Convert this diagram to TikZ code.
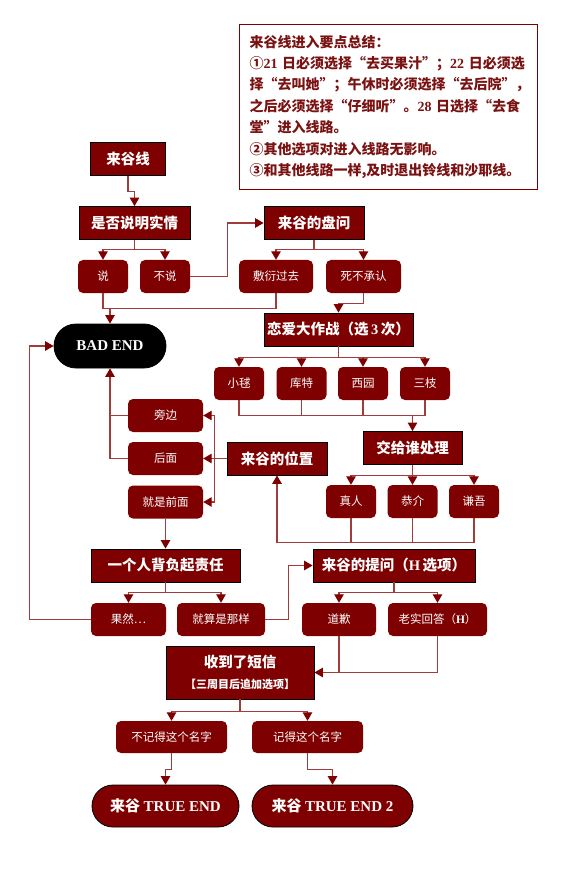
\documentclass[tikz,border=0pt]{standalone}
\usepackage{fontspec}
\setmainfont{Liberation Serif}
\newfontfamily\cjk{Noto Sans CJK SC}
\usetikzlibrary{arrows.meta,shapes.misc}
\definecolor{lgred}{HTML}{7F0000}
\definecolor{lgline}{HTML}{A03C3C}
\definecolor{lgtext}{HTML}{7A1212}
\newcommand\latn[1]{{\rmfamily\bfseries #1}}

\begin{document}
\begin{tikzpicture}[x=1pt,y=-1pt,
  headbox/.style={rectangle,fill=lgred,draw=black,line width=0.8pt,text=white,inner sep=0pt,minimum height=33pt,font=\cjk\bfseries\fontsize{14.5}{21}\selectfont},
  optbox/.style={rectangle,rounded corners=5pt,fill=lgred,text=white,inner sep=0pt,minimum height=33pt,font=\cjk\fontsize{11.5}{13}\selectfont},
  endbox/.style={rounded rectangle,fill=lgred,draw=black,line width=0.8pt,text=white,inner sep=0pt,minimum height=42pt,font=\cjk\bfseries\fontsize{15}{17}\selectfont},
  link/.style={draw=lgline,line width=1.1pt},
  arr/.style={link,-{Triangle[width=9.5pt,length=8.5pt,color=lgred]}}]
    \useasboundingbox (0,0) rectangle (580,874);
    \node[draw=lgred,line width=1pt,anchor=north west,text width=278pt,inner xsep=10pt,inner ysep=10.5pt,align=left,text=lgtext,font=\cjk\bfseries\fontsize{14}{21.4}\selectfont] (notes) at (239,24) {来谷线进入要点总结：\\
①\latn{21} 日必须选择“去买果汁”；\latn{22} 日必须选\\
择“去叫她”；午休时必须选择“去后院”，\\
之后必须选择“仔细听”。\latn{28} 日选择“去食\\
堂”进入线路。\\
②其他选项对进入线路无影响。\\
③和其他线路一样,及时退出铃线和沙耶线。};
    \node[headbox,minimum width=75pt] (line) at (128,159) {来谷线};
    \node[headbox,minimum width=111pt] (q) at (134.5,223) {是否说明实情};
    \node[headbox,minimum width=100pt] (pan) at (314,223) {来谷的盘问};
    \node[optbox,minimum width=50pt] (say) at (103,276.5) {说};
    \node[optbox,minimum width=50pt] (nosay) at (165,276.5) {不说};
    \node[optbox,minimum width=74pt] (fuyan) at (276,276.5) {敷衍过去};
    \node[optbox,minimum width=75pt] (deny) at (363.5,276.5) {死不承认};
    \node[endbox,fill=black,minimum width=112pt,minimum height=44pt] (bad) at (110,346) {\latn{BAD END}};
    \node[headbox,minimum width=149pt] (love) at (338.5,329.5) {恋爱大作战（选\,\latn{3}\,次）};
    \node[optbox,minimum width=50pt] (komari) at (239,383.5) {小毬};
    \node[optbox,minimum width=50pt] (kud) at (301.5,383.5) {库特};
    \node[optbox,minimum width=50pt] (mio) at (363,383.5) {西园};
    \node[optbox,minimum width=50pt] (saigusa) at (425,383.5) {三枝};
    \node[optbox,minimum width=75pt] (side) at (165.5,415.5) {旁边};
    \node[optbox,minimum width=75pt] (back) at (165.5,458.5) {后面};
    \node[optbox,minimum width=75pt] (front) at (165.5,502) {就是前面};
    \node[headbox,minimum width=100pt] (pos) at (277,458.5) {来谷的位置};
    \node[headbox,minimum width=99pt] (judge) at (412.5,448) {交给谁处理};
    \node[optbox,minimum width=50pt] (masato) at (351,501.5) {真人};
    \node[optbox,minimum width=50pt] (kyosuke) at (412.5,501.5) {恭介};
    \node[optbox,minimum width=50pt] (kengo) at (474,501.5) {谦吾};
    \node[headbox,minimum width=149pt] (alone) at (165.5,565.5) {一个人背负起责任};
    \node[headbox,minimum width=162pt] (ask) at (394,565.5) {来谷的提问（\latn{H}\,选项）};
    \node[optbox,minimum width=75pt] (indeed) at (128.5,619.5) {果然…};
    \node[optbox,minimum width=88pt] (evenso) at (221,619.5) {就算是那样};
    \node[optbox,minimum width=74pt] (sorry) at (339,619.5) {道歉};
    \node[optbox,minimum width=99pt] (honest) at (437.5,619.5) {老实回答（\latn{H}）};
    \node[headbox,minimum width=148pt,minimum height=53pt,align=center] (sms) at (240,672.5) {收到了短信\\{\fontsize{11}{13}\selectfont【三周目后追加选项】}};
    \node[optbox,minimum width=111pt,minimum height=32pt] (forget) at (171.5,737) {不记得这个名字};
    \node[optbox,minimum width=111pt,minimum height=32pt] (remember) at (307.5,737) {记得这个名字};
    \node[endbox,minimum width=147pt] (true1) at (165.5,806) {来谷 \latn{TRUE END}};
    \node[endbox,minimum width=161pt] (true2) at (332.5,806) {来谷 \latn{TRUE END 2}};

    \draw[arr] (line.south) -- ++(0,16) -| (q.north);
    \draw[link] (q.south) -- ++(0,10) coordinate (qb);
    \draw[arr] (qb) -| (say.north);
    \draw[arr] (qb) -| (nosay.north);
    \draw[arr] (nosay.east) -- ++(37,0) |- (pan.west);
    \draw[link] (pan.south) -- ++(0,10) coordinate (pb);
    \draw[arr] (pb) -| (fuyan.north);
    \draw[arr] (pb) -| (deny.north);
    \draw[link] (say.south) -- ++(0,15) coordinate (sb) -| (fuyan.south);
    \draw[arr] (bad.north |- sb) -- (bad.north);
    \draw[arr] (deny.south) -- ++(0,10) -| (love.north);
    \draw[link] (love.south) -- ++(0,11) coordinate (lb);
    \foreach \n in {komari,kud,mio,saigusa}
        \draw[arr] (lb) -| (\n.north);
    \draw[link] (komari.south) -- ++(0,15) coordinate (kb) -| (saigusa.south);
    \draw[link] (kud.south) -- (kud.south |- kb);
    \draw[link] (mio.south) -- (mio.south |- kb);
    \draw[arr] (judge.north |- kb) -- (judge.north);
    \draw[link] (judge.south) -- ++(0,11) coordinate (jb);
    \foreach \n in {masato,kyosuke,kengo}
        \draw[arr] (jb) -| (\n.north);
    \draw[link] (masato.south) -- ++(0,24) coordinate (mb) -| (kengo.south);
    \draw[link] (kyosuke.south) -- (kyosuke.south |- mb);
    \draw[arr] (mb) -| (pos.south);
    \draw[link] (pos.west) -- ++(-12,0) coordinate (pw);
    \draw[link] (pw |- side.east) -- (pw |- front.east);
    \draw[arr] (pw |- side.east) -- (side.east);
    \draw[arr] (pw) -- (back.east);
    \draw[arr] (pw |- front.east) -- (front.east);
    \draw[link] (side.west) -- (bad.south |- side.west);
    \draw[arr] (back.west) -| (bad.south);
    \draw[arr] (front.south) -- (alone.north);
    \draw[link] (alone.south) -- ++(0,10) coordinate (ab);
    \draw[arr] (ab) -| (indeed.north);
    \draw[arr] (ab) -| (evenso.north);
    \draw[arr] (indeed.west) -- ++(-61,0) |- (bad.west);
    \draw[arr] (evenso.east) -- ++(23,0) |- (ask.west);
    \draw[link] (ask.south) -- ++(0,10) coordinate (kq);
    \draw[arr] (kq) -| (sorry.north);
    \draw[arr] (kq) -| (honest.north);
    \draw[link] (sorry.south) -- (sorry.south |- sms.east);
    \draw[arr] (honest.south) |- (sms.east);
    \draw[link] (sms.south) -- ++(0,12) coordinate (mq);
    \draw[arr] (mq) -| (forget.north);
    \draw[arr] (mq) -| (remember.north);
    \draw[arr] (forget.south) -- ++(0,16) -| (true1.north);
    \draw[arr] (remember.south) -- ++(0,16) -| (true2.north);
\end{tikzpicture}
\end{document}
